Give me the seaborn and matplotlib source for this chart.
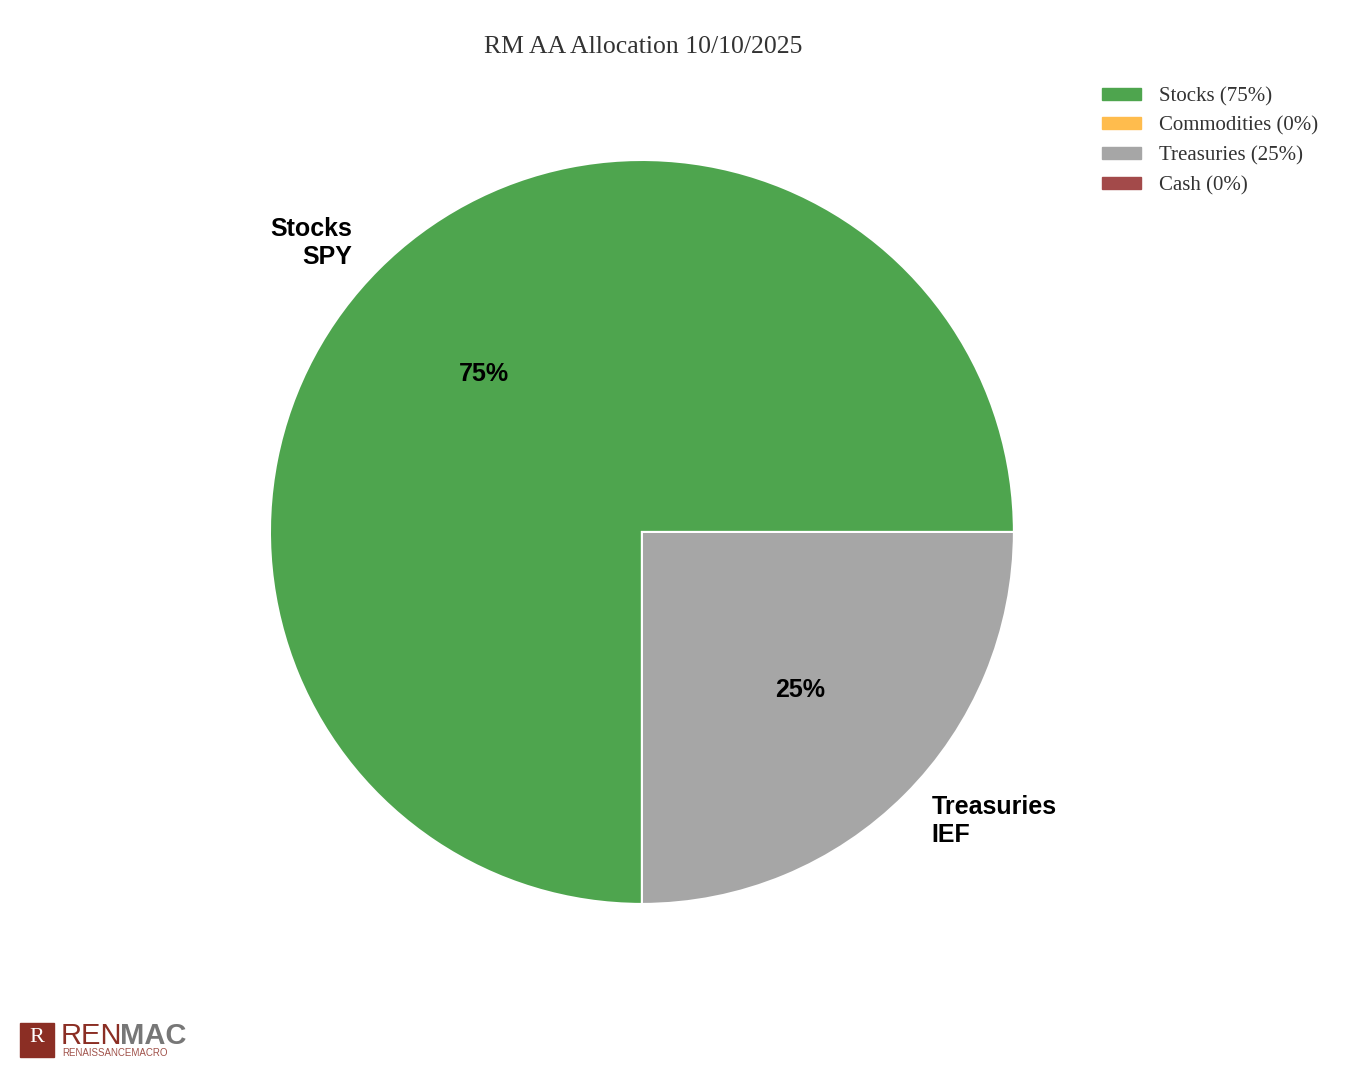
import matplotlib
matplotlib.use("Agg")
import matplotlib.pyplot as plt
import matplotlib.patches as mpatches
import seaborn as sns

# data
assets = ["Stocks", "Commodities", "Treasuries", "Cash"]
tickers = ["SPY", "", "IEF", ""]
weights = [75, 0, 25, 0]
colors = ["#4ea54e", "#ffbc4d", "#a6a6a6", "#a34a4a"]

sns.set_theme(style="white")
plt.rcParams["font.family"] = ["Liberation Sans", "DejaVu Sans"]

fig = plt.figure(figsize=(13.55, 10.75), dpi=100)
ax = fig.add_axes([0.1306, 0.0726, 0.6863, 0.8651])

# only slices with a weight get drawn
vals = [w for w in weights if w > 0]
labs = [a + "\n" + t for a, t, w in zip(assets, tickers, weights) if w > 0]
cols = [c for c, w in zip(colors, weights) if w > 0]

wedges, texts, autotexts = ax.pie(
    vals, labels=labs, colors=cols, startangle=0, counterclock=True,
    autopct="%1.0f%%", pctdistance=0.6, labeldistance=1.1,
    wedgeprops=dict(edgecolor="white", linewidth=1.5),
    textprops=dict(fontsize=18, fontweight="bold", color="black"))
ax.set_aspect("equal")

fig.text(643 / 1355, 1 - 47 / 1075, "RM AA Allocation 10/10/2025",
         ha="center", va="center", fontsize=18.5, color="#333333",
         family=["Liberation Serif", "DejaVu Serif"])

handles = [mpatches.Patch(color=c, label=f"{a} ({w}%)")
           for a, c, w in zip(assets, colors, weights)]
leg = fig.legend(handles=handles, loc="upper left",
                 bbox_to_anchor=(1083 / 1355, 1 - 68 / 1075), frameon=False,
                 handlelength=1.9, handleheight=0.5, labelspacing=0.5,
                 handletextpad=0.85,
                 prop=dict(family=["Liberation Serif", "DejaVu Serif"], size=15))
for t in leg.get_texts():
    t.set_color("#333333")

# logo
fig.patches.append(mpatches.Rectangle((20 / 1355, 1 - 1057 / 1075), 34 / 1355, 34 / 1075,
                                      transform=fig.transFigure, color="#8b2e24"))
fig.text(37 / 1355, 1 - 1038 / 1075, "R", color="white", fontsize=16,
         ha="center", va="center", family=["Liberation Serif"])
fig.text(61 / 1355, 1 - 1036 / 1075, "REN", color="#8b2e24", fontsize=21,
         ha="left", va="center")
fig.text(120 / 1355, 1 - 1036 / 1075, "MAC", color="#777777", fontsize=21,
         ha="left", va="center", fontweight="bold")
fig.text(62 / 1355, 1 - 1053 / 1075, "RENAISSANCEMACRO", color="#a0524a",
         fontsize=7, ha="left", va="center")

fig.savefig("out.png", dpi=100, facecolor="white")
